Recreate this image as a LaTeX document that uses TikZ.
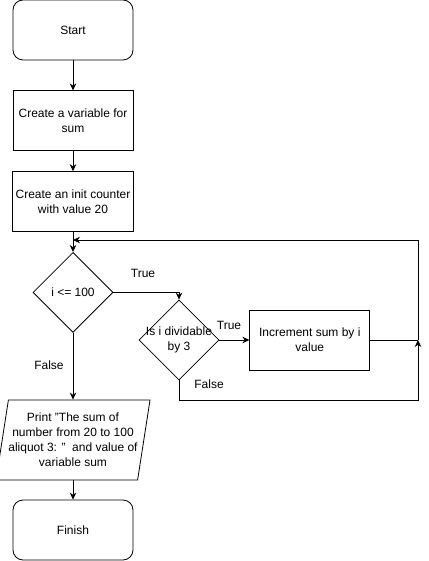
\documentclass[tikz,border=0pt]{standalone}
\usepackage{fontspec}
\setmainfont{Liberation Sans}
\usetikzlibrary{shapes.geometric, arrows.meta, positioning}

\begin{document}
\begin{tikzpicture}[
    x=1pt, y=1pt,
    node distance=20pt and 30pt,
    >={Stealth[length=7pt,width=6.5pt]},
    font=\fontsize{12}{15}\selectfont,
    % Styles
    terminal/.style={rectangle, draw, rounded corners=10pt, minimum width=120pt, minimum height=60pt, align=center, line width=0.8pt},
    process/.style={rectangle, draw, minimum width=120pt, minimum height=60pt, align=center, line width=0.8pt},
    decision/.style={diamond, draw, minimum width=80pt, minimum height=80pt, inner sep=0pt, align=center, line width=0.8pt},
    iobox/.style={trapezium, trapezium left angle=77, trapezium right angle=103, trapezium stretches=true, draw, minimum width=146pt, minimum height=80pt, inner sep=0pt, align=center, line width=0.8pt},
    arrowline/.style={->, line width=0.8pt},
    plainline/.style={line width=0.8pt},
    edgelabel/.style={font=\fontsize{12}{15}\selectfont},
]
\useasboundingbox (0,0) rectangle (428,-561);

% === MAIN COLUMN ===
\node[terminal] (start) at (73,-30) {Start};
\node[process, below=30pt of start] (sumvar) {Create a variable for\\sum};
\node[process, below=of sumvar] (counter) {Create an init counter\\with value 20};
\node[decision, below=of counter] (cond) {i <= 100};
\node[iobox] (print) at (73,-440) {Print "The sum of\\number from 20 to 100\\aliquot 3: "\ \ and value of\\variable sum};
\node[terminal] (finish) at (73,-530) {Finish};

% === LOOP BODY ===
\node[decision, label={[align=center]center:Is i dividable\\by 3}] (check) at (179,-340) {};
\node[process, right=30pt of check] (incr) {Increment sum by i\\value};

% === HELPER POINTS ===
\coordinate (join) at (418,-340);
\coordinate (corner) at (418,-400);
\coordinate (loopin) at (73,-240);

% === ARROWS ===
\draw[arrowline] (start) -- (sumvar);
\draw[arrowline] (sumvar) -- (counter);
\draw[arrowline] (counter) -- (cond);
\draw[arrowline] (cond.east) -| (check.north);
\draw[arrowline] (check.east) -- (incr.west);
\draw[plainline] (incr.east) -- (join);
\draw[arrowline] (check.south) |- (corner) -- (join);
\draw[arrowline] (join) |- (loopin);
\draw[arrowline] (cond.south) -- (cond.south |- print.north);
\draw[arrowline] (finish.north |- print.south) -- (finish.north);

% === LABELS ===
\node[edgelabel] (ltrue1) at (143,-273) {True};
\node[edgelabel] (ltrue2) at (229,-325) {True};
\node[edgelabel] (lfalse1) at (49,-365) {False};
\node[edgelabel] (lfalse2) at (209,-384) {False};

\end{tikzpicture}
\end{document}
